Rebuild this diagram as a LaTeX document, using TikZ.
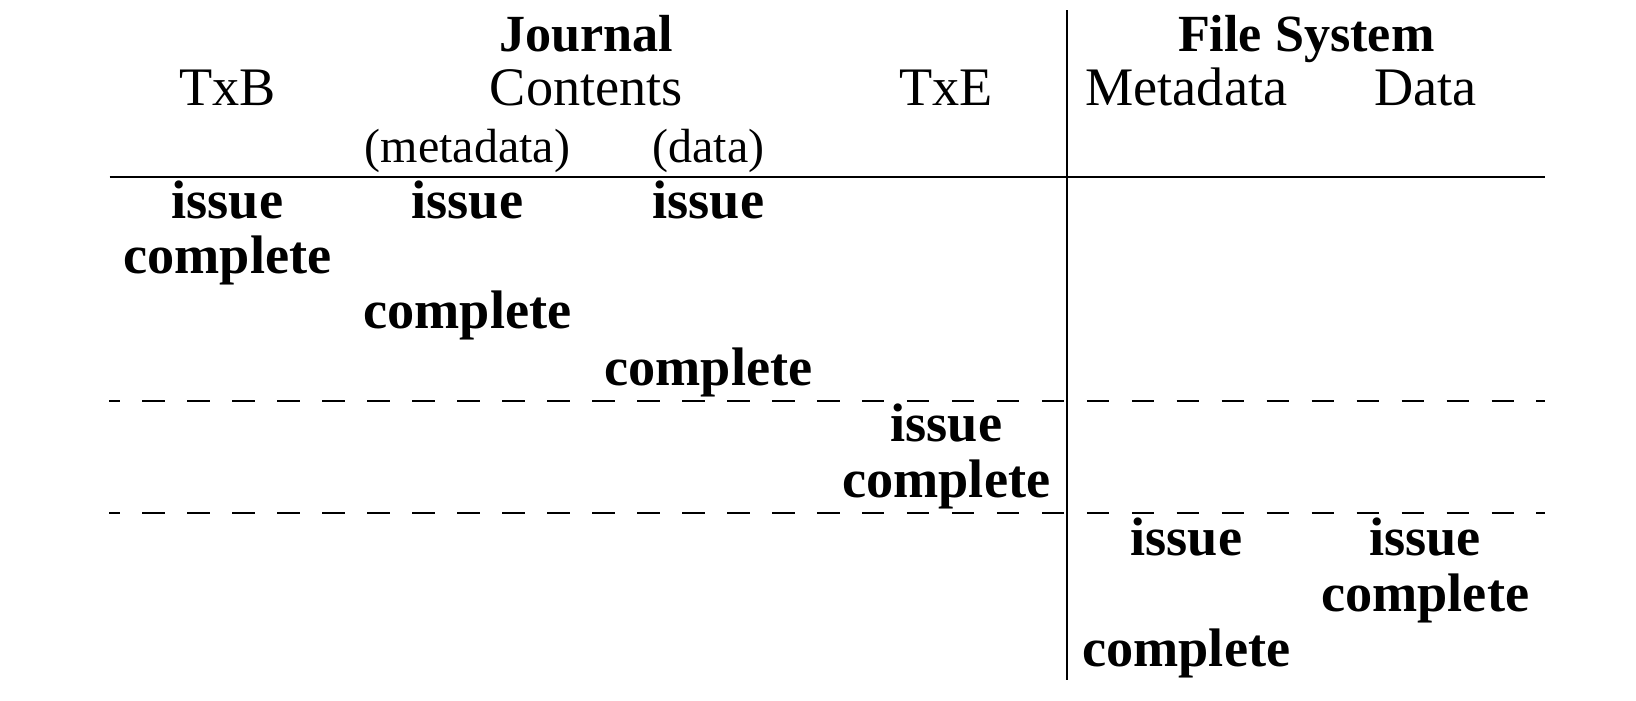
\documentclass[tikz,border=0pt]{standalone}
\usepackage{fontspec}
\setmainfont{Liberation Serif}
\begin{document}
\begin{tikzpicture}[x=1pt,y=1pt,
  lab/.style={anchor=base,inner sep=0pt,font=\fontsize{52}{60}\selectfont},
  hdr/.style={anchor=base,inner sep=0pt,font=\fontsize{50}{60}\selectfont\bfseries},
  sub/.style={anchor=base,inner sep=0pt,font=\fontsize{46}{55}\selectfont},
  ev/.style={anchor=base,inner sep=0pt,font=\fontsize{52}{60}\selectfont\bfseries},
  rule/.style={line width=2.1pt},
  dashrule/.style={line width=2.2pt,dash pattern=on 21.6pt off 21.5pt,dash phase=11.1pt}]
\useasboundingbox (0,0) rectangle (1568,-671);
% coordinates for rules
\coordinate (hl) at (105,-170);
\coordinate (hr) at (1481,-170);
\coordinate (vt) at (1023,-10);
\coordinate (vb) at (1023,-652);
\coordinate (d1l) at (104.5,-384.5);
\coordinate (d1r) at (1481,-384.5);
\coordinate (d2l) at (104.5,-492);
\coordinate (d2r) at (1481,-492);
\draw[rule] (hl) -- (hr);
\draw[rule] (vt) -- (vb);
\draw[dashrule] (d1l) -- (d1r);
\draw[dashrule] (d2l) -- (d2r);
% headers
\node[hdr] (journal) at (562,-49) {Journal};
\node[hdr] (fs) at (1252,-49) {File System};
\node[lab] (txb) at (218,-101) {TxB};
\node[lab] (contents) at (562,-101) {Contents};
\node[lab] (txe) at (907,-101) {TxE};
\node[lab] (meta) at (1137,-101) {Metadata};
\node[lab] (data) at (1366,-101) {Data};
\node[sub] (submeta) at (448,-156) {(metadata)};
\node[sub] (subdata) at (679,-156) {(data)};
% events
\node[ev] (i1) at (218,-209) {issue};
\node[ev] (i2) at (448,-209) {issue};
\node[ev] (i3) at (679,-209) {issue};
\node[ev] (c1) at (218,-262) {complete};
\node[ev] (c2) at (448,-315) {complete};
\node[ev] (c3) at (679,-369) {complete};
\node[ev] (i4) at (907,-423) {issue};
\node[ev] (c4) at (907,-477) {complete};
\node[ev] (i5) at (1137,-532) {issue};
\node[ev] (i6) at (1366,-532) {issue};
\node[ev] (c6) at (1366,-586) {complete};
\node[ev] (c5) at (1137,-639) {complete};
\end{tikzpicture}
\end{document}
